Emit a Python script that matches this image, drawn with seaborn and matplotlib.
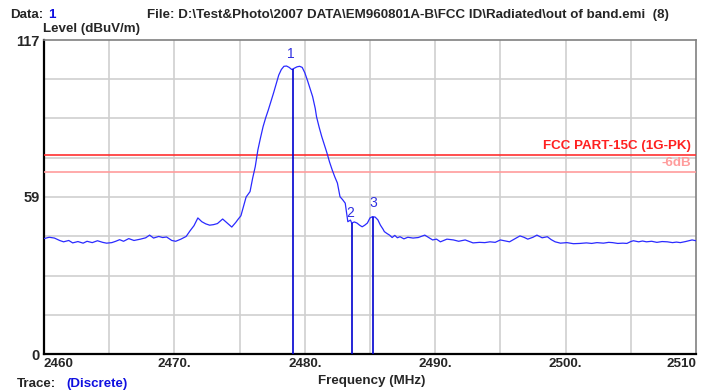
import matplotlib
matplotlib.use("Agg")
import matplotlib.pyplot as plt
import seaborn as sns
import pandas as pd
import numpy as np

# ---------------- data ----------------
freq = [2460.0, 2460.4, 2460.8, 2461.2, 2461.5, 2461.9, 2462.2, 2462.6, 2463.0, 2463.3,
        2463.7, 2464.1, 2464.5, 2464.8, 2465.2, 2465.5, 2465.8, 2466.1, 2466.5, 2466.9,
        2467.4, 2467.8, 2468.1, 2468.4, 2468.8, 2469.1, 2469.4, 2469.8, 2470.1, 2470.5,
        2470.9, 2471.2, 2471.5, 2471.8, 2472.1, 2472.4, 2472.7, 2473.0, 2473.3, 2473.7,
        2474.0, 2474.4, 2474.7, 2474.9, 2475.1, 2475.3, 2475.5, 2475.8, 2476.0, 2476.2,
        2476.4, 2476.6, 2476.8, 2477.0, 2477.2, 2477.4, 2477.6, 2477.8, 2478.0, 2478.2,
        2478.4, 2478.6, 2478.8, 2479.0, 2479.2, 2479.4, 2479.6, 2479.8, 2480.0, 2480.2,
        2480.4, 2480.6, 2480.8, 2480.9, 2481.1, 2481.3, 2481.5, 2481.7, 2481.9, 2482.1,
        2482.3, 2482.5, 2482.7, 2482.9, 2483.1, 2483.3, 2483.5, 2483.6, 2483.8, 2484.0,
        2484.2, 2484.4, 2484.6, 2484.8, 2485.0, 2485.2, 2485.4, 2485.6, 2485.8, 2486.0,
        2486.1, 2486.3, 2486.5, 2486.7, 2486.9, 2487.1, 2487.3, 2487.6, 2487.9, 2488.3,
        2488.7, 2489.2, 2489.5, 2489.8, 2490.1, 2490.4, 2490.9, 2491.4, 2491.8, 2492.3,
        2492.9, 2493.4, 2493.8, 2494.2, 2494.6, 2495.0, 2495.4, 2495.7, 2496.1, 2496.5,
        2496.8, 2497.1, 2497.5, 2497.8, 2498.2, 2498.6, 2498.9, 2499.2, 2499.6, 2500.1,
        2500.6, 2501.1, 2501.6, 2502.0, 2502.4, 2502.9, 2503.3, 2503.6, 2504.0, 2504.4,
        2504.7, 2505.0, 2505.2, 2505.6, 2505.9, 2506.2, 2506.6, 2507.0, 2507.4, 2507.8,
        2508.2, 2508.5, 2508.8, 2509.2, 2509.7, 2510.0]
level = [43.0, 43.5, 43.2, 42.3, 41.8, 42.3, 41.4, 41.9, 41.3, 42.0,
         41.5, 42.2, 41.6, 41.3, 41.5, 42.0, 42.6, 42.0, 43.0, 42.3,
         42.8, 43.3, 44.3, 43.2, 43.8, 43.4, 43.6, 42.3, 42.0, 42.8,
         43.8, 45.9, 47.8, 50.7, 49.3, 48.5, 48.0, 48.2, 48.6, 50.3,
         49.0, 47.3, 49.0, 50.3, 51.5, 55.0, 58.5, 60.5, 65.5, 69.8,
         76.0, 80.5, 84.7, 88.0, 90.9, 94.0, 97.2, 100.5, 103.9, 106.0,
         107.2, 107.3, 106.8, 106.0, 106.5, 107.0, 107.2, 106.8, 104.8, 102.0,
         99.0, 95.9, 91.5, 88.4, 84.5, 81.0, 78.0, 74.9, 71.5, 68.6,
         66.0, 63.7, 58.6, 57.5, 56.2, 49.3, 49.9, 48.8, 49.2, 48.8,
         48.0, 47.4, 48.0, 48.8, 50.7, 51.2, 51.0, 50.0, 48.0, 46.5,
         45.6, 44.9, 44.3, 43.4, 44.2, 43.3, 43.7, 42.9, 43.5, 43.2,
         43.4, 44.3, 43.4, 42.5, 42.8, 41.8, 42.8, 42.5, 42.0, 42.5,
         41.4, 41.6, 41.5, 41.8, 41.6, 42.5, 42.1, 41.8, 42.9, 44.0,
         43.5, 42.8, 43.5, 44.3, 43.3, 43.7, 42.6, 41.8, 41.3, 41.5,
         41.1, 41.2, 41.4, 41.2, 41.5, 41.3, 41.6, 41.5, 41.2, 41.3,
         41.2, 41.9, 42.2, 41.8, 42.1, 41.8, 42.0, 41.6, 41.9, 41.8,
         41.5, 41.7, 41.5, 41.9, 42.5, 42.2]

marker_freq = [2479.1, 2483.6, 2485.25]
marker_level = [106.3, 48.9, 51.2]
marker_labels = ["1", "2", "3"]

limit_level = 74.0
limit_label = "FCC PART-15C (1G-PK)"
margin_level = 68.0
margin_label = "-6dB"

xtick_vals = [2460, 2470, 2480, 2490, 2500, 2510]
xtick_labels = ["2460", "2470.", "2480.", "2490.", "2500.", "2510"]
ytick_vals = [0, 58.5, 117]
ytick_labels = ["0", "59", "117"]

# ---------------- style ----------------
sns.set_style("white")
plt.rcParams['font.family'] = ['Liberation Sans', 'DejaVu Sans']
FS = 9.6

fig = plt.figure(figsize=(7.07, 3.90), dpi=100)
ax = fig.add_axes([44/707, 1-354/390, (696-44)/707, (354-40)/390])

df = pd.DataFrame({"Frequency": freq, "Level": level})
sns.lineplot(data=df, x="Frequency", y="Level", ax=ax, color="#2a2aff", linewidth=0.9,
             estimator=None, sort=False, zorder=4)

ax.set_xlim(2460, 2510)
ax.set_ylim(0, 117)

# grid
for gx in np.arange(2465, 2510, 5):
    ax.axvline(gx, color="#cfcfcf", linewidth=1.2, zorder=1)
for gy in np.arange(1, 8) * 117 / 8:
    ax.axhline(gy, color="#cfcfcf", linewidth=1.2, zorder=1)

# limit lines
ax.axhline(limit_level, color="#ff3030", linewidth=1.2, zorder=3)
ax.axhline(margin_level, color="#ff9c9c", linewidth=1.2, zorder=3)
ax.text(2509.6, limit_level + 1.2, limit_label, color="#ff2020", fontsize=FS,
        fontweight="bold", ha="right", va="bottom", zorder=5)
ax.text(2509.6, margin_level + 1.0, margin_label, color="#ff9c9c", fontsize=FS,
        fontweight="bold", ha="right", va="bottom", zorder=5)

# markers
ax.vlines(marker_freq, 0, marker_level, color="#0000d0", linewidth=1.2, zorder=5)
label_offsets = [(-0.2, 3.0), (-0.1, 1.0), (0.0, 2.5)]
for f, v, lab, (dx, dy) in zip(marker_freq, marker_level, marker_labels, label_offsets):
    ax.text(f + dx, v + dy, lab, color="#3030e0", fontsize=10, ha="center",
            va="bottom", zorder=6)

# ticks
ax.set_xticks(xtick_vals)
ax.set_xticklabels(xtick_labels, fontsize=FS, fontweight="bold")
ax.set_yticks(ytick_vals)
ax.set_yticklabels(ytick_labels, fontsize=10.5, fontweight="bold")
ax.tick_params(axis="both", length=0, pad=3)
lbls = ax.get_xticklabels()
lbls[0].set_ha("left")
lbls[-1].set_ha("right")
for t in lbls[1:-1]:
    t.set_ha("center")

ax.set_xlabel("")
ax.set_ylabel("")

# spines
for s in ["left", "bottom"]:
    ax.spines[s].set_color("black")
    ax.spines[s].set_linewidth(1.6)
for s in ["top", "right"]:
    ax.spines[s].set_color("#808080")
    ax.spines[s].set_linewidth(1.2)

# header / footer texts
fig.text(10/707, 1-15/390, "Data:", fontsize=FS, fontweight="bold", va="center", ha="left")
fig.text(48/707, 1-15/390, "1", fontsize=FS, fontweight="bold", va="center", ha="left",
         color="#1010e0")
fig.text(147/707, 1-15/390,
         r"File: D:\Test&Photo\2007 DATA\EM960801A-B\FCC ID\Radiated\out of band.emi  (8)",
         fontsize=FS, fontweight="bold", va="center", ha="left")
fig.text(43/707, 1-29/390, "Level (dBuV/m)", fontsize=FS, fontweight="bold",
         va="center", ha="left")
fig.text(372/707, 1-381/390, "Frequency (MHz)", fontsize=FS, fontweight="bold",
         va="center", ha="center")
fig.text(17/707, 1-384/390, "Trace:", fontsize=FS, fontweight="bold", va="center", ha="left")
fig.text(66/707, 1-384/390, "(Discrete)", fontsize=FS, fontweight="bold", va="center",
         ha="left", color="#1010e0")

fig.savefig("out.png", dpi=100, facecolor="white")
